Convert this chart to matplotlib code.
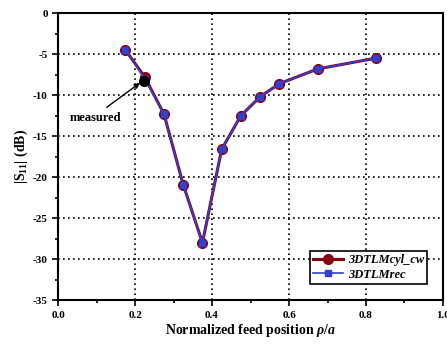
"""Return loss vs normalized feed position."""

import matplotlib
matplotlib.use("Agg")
import matplotlib.pyplot as plt
from matplotlib.ticker import MultipleLocator

plt.rcParams["font.family"] = ["Liberation Serif", "DejaVu Serif"]
plt.rcParams["mathtext.fontset"] = "custom"
plt.rcParams["mathtext.rm"] = "Liberation Serif:bold"
plt.rcParams["mathtext.it"] = "Liberation Serif:bold:italic"

feed_pos = [0.175, 0.225, 0.275, 0.325, 0.375, 0.425, 0.475, 0.525, 0.575, 0.675, 0.825]
s11_cyl = [-4.5, -7.8, -12.3, -20.9, -28.0, -16.6, -12.5, -10.2, -8.6, -6.8, -5.5]
s11_rec = [-4.5, -8.0, -12.3, -20.9, -28.0, -16.6, -12.5, -10.2, -8.6, -6.8, -5.5]
measured_x = [0.2225]
measured_y = [-8.3]

fig = plt.figure(figsize=(4.47, 3.45), dpi=100)
ax = fig.add_axes([0.130, 0.130, 0.861, 0.832])

ax.plot(feed_pos, s11_cyl, color="#8b0010", marker="o", markersize=7,
        linewidth=2.2, label="3DTLMcyl_cw", zorder=3)
ax.plot(feed_pos, s11_rec, color="#3040d0", marker="s", markersize=5,
        linewidth=1.2, label="3DTLMrec", zorder=4)
ax.plot(measured_x, measured_y, "o", color="black", markersize=7, zorder=5)

ax.annotate("measured", xy=(0.213, -8.5), xytext=(0.03, -12.8),
            fontsize=9, fontweight="bold", va="center",
            arrowprops=dict(arrowstyle="-|>", color="black", lw=1.0,
                            shrinkA=0, shrinkB=0, mutation_scale=8,
                            relpos=(0.72, 1.4)))

ax.set_xlim(0, 1.0)
ax.set_ylim(-35, 0)
ax.xaxis.set_major_locator(MultipleLocator(0.2))
ax.xaxis.set_minor_locator(MultipleLocator(0.1))
ax.yaxis.set_major_locator(MultipleLocator(5))
ax.yaxis.set_minor_locator(MultipleLocator(2.5))
ax.xaxis.set_major_formatter(plt.FuncFormatter(lambda v, p: f"{v:.1f}"))
ax.yaxis.set_major_formatter(plt.FuncFormatter(lambda v, p: f"{v:.0f}"))
ax.tick_params(which="both", direction="out", top=False, right=False,
               labelsize=8, width=1.2)
ax.tick_params(which="major", length=4)
ax.tick_params(which="minor", length=2.5)
for lab in ax.get_xticklabels() + ax.get_yticklabels():
    lab.set_fontweight("bold")
for sp in ax.spines.values():
    sp.set_linewidth(1.5)

ax.grid(which="major", color="black", linestyle=(0, (1, 2)), linewidth=1.2)

ax.set_xlabel(r"Normalized feed position $\rho/a$", fontsize=10,
              fontweight="bold", labelpad=2)
ax.set_ylabel(r"|S$_{11}$| (dB)", fontsize=10, fontweight="bold", labelpad=2)

leg = ax.legend(loc="lower right", bbox_to_anchor=(0.975, 0.035),
                prop={"size": 9, "weight": "bold", "style": "italic"},
                fancybox=False, edgecolor="black", framealpha=1,
                handlelength=2.4, borderpad=0.25, labelspacing=0.2,
                handletextpad=0.4)
leg.get_frame().set_linewidth(1.2)

fig.savefig("out.png", dpi=100)
